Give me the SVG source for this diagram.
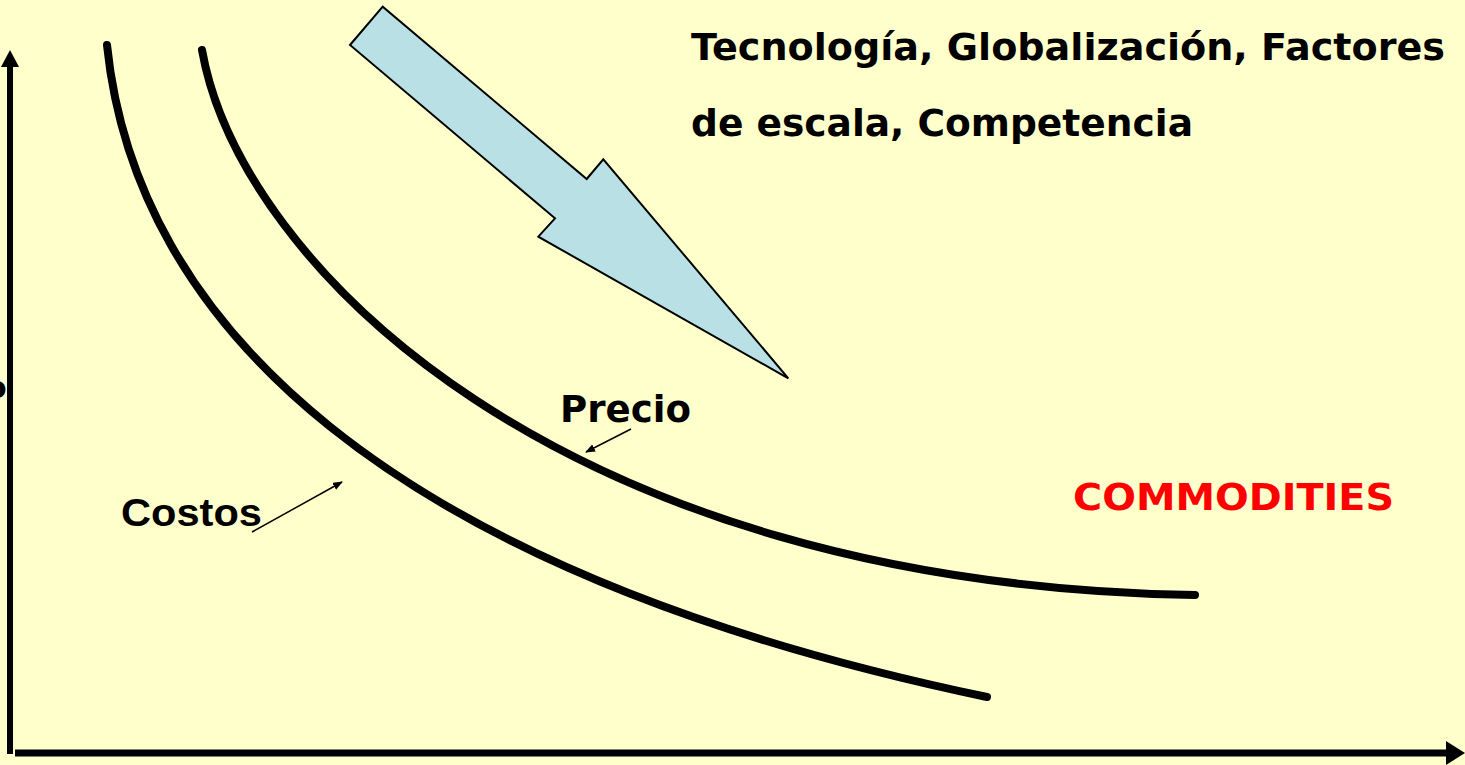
<svg xmlns="http://www.w3.org/2000/svg" width="1465" height="765" viewBox="0 0 1465 765">
<style>
.t{font-family:"DejaVu Sans","Liberation Sans",sans-serif;font-weight:bold;fill:#000}
.a{font-family:"Liberation Sans",Arial,sans-serif;font-weight:bold}
.curve{fill:none;stroke:#000;stroke-width:8;stroke-linecap:round}
.axis{stroke:#000;fill:none}
.ptr{stroke:#000;stroke-width:1.5;fill:none}
</style>
<defs>
<marker id="ah" markerWidth="10" markerHeight="8" refX="9" refY="4" orient="auto" markerUnits="userSpaceOnUse" viewBox="0 0 10 8">
<path d="M0,0 L10,4 L0,8 Z" fill="#000"/>
</marker>
</defs>
<rect width="1465" height="765" fill="#FFFFCC"/>
<g id="axes">
<line class="axis" x1="10" y1="62" x2="10" y2="754" stroke-width="6"/>
<polygon points="10,50 1,67 19,67" fill="#000"/>
<line class="axis" x1="15" y1="753" x2="1450" y2="753" stroke-width="7"/>
<polygon points="1465,753 1446,741 1446,765" fill="#000"/>
</g>
<text class="t" x="-14" y="398" font-size="30">o</text>
<g id="big-arrow">
<polygon points="382.7,6.7 350,45 555,218.3 538.3,236.7 788.3,378.3 603.3,159.3 586.7,179" fill="#B9E0E5" stroke="#000" stroke-width="2" stroke-linejoin="miter"/>
</g>
<g id="costos-curve">
<path class="curve" d="M107,45 C135,320 380,570 987,697"/>
</g>
<g id="precio-curve">
<path class="curve" d="M202,50 C240,265 560,585 1195,595"/>
</g>
<g id="connectors">
<line class="ptr" x1="631" y1="429" x2="586" y2="452" marker-end="url(#ah)"/>
<line class="ptr" x1="252" y1="532" x2="342" y2="482" marker-end="url(#ah)"/>
</g>
<g id="title">
<text class="t" x="691" y="60" font-size="38" textLength="754" lengthAdjust="spacingAndGlyphs">Tecnología, Globalización, Factores</text>
<text class="t" x="691" y="136" font-size="38" textLength="502" lengthAdjust="spacingAndGlyphs">de escala, Competencia</text>
</g>
<g id="label-precio"><text class="t" x="560" y="422" font-size="38" textLength="131" lengthAdjust="spacingAndGlyphs">Precio</text></g>
<g id="label-costos"><text class="a" x="121" y="526" font-size="39" fill="#000" textLength="141" lengthAdjust="spacingAndGlyphs">Costos</text></g>
<g id="label-commodities"><text class="t" x="1073" y="510" font-size="38" fill="#FF0000" style="fill:#FF0000" textLength="321" lengthAdjust="spacingAndGlyphs">COMMODITIES</text></g>
</svg>
